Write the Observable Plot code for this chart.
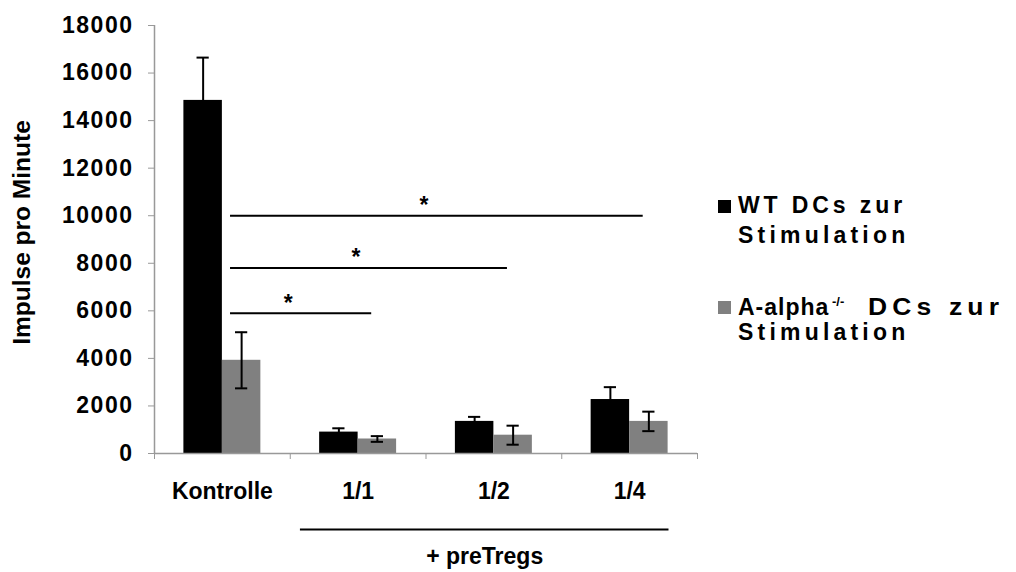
<!DOCTYPE html>
<html>
<head>
<meta charset="utf-8">
<script src="https://cdn.jsdelivr.net/npm/d3@7"></script>
<script src="https://cdn.jsdelivr.net/npm/@observablehq/plot@0.6"></script>
<style>
  body { margin: 0; background: #fff; }
  #wrap { position: relative; width: 1016px; height: 572px; font-family: "Liberation Sans", Arial, sans-serif; }
  #wrap svg text { font-weight: bold; }
  g[aria-label="y-axis tick label"] text { letter-spacing: 1.5px; }
  .lg { position: absolute; font-weight: bold; font-size: 23px; line-height: 23px; color: #000; white-space: nowrap; transform-origin: 0 0; }
  .sw { position: absolute; width: 13px; height: 13px; }
  .sup { font-size: 13px; letter-spacing: 0; }
</style>
</head>
<body>
<div id="wrap"></div>
<script>
// ---- data ----
const categories = ["Kontrolle", "1/1", "1/2", "1/4"];
const seriesNames = ["WT DCs zur Stimulation", "A-alpha-/- DCs zur Stimulation"];
const seriesColors = ["#000000", "#808080"];
const wtMeans = [14850, 900, 1350, 2270];
const wtErrors = [1800, 160, 190, 520];
const koMeans = [3920, 610, 770, 1350];
const koErrors = [1180, 120, 400, 410];
const yTicks = [0, 2000, 4000, 6000, 8000, 10000, 12000, 14000, 16000, 18000];
const sigFrom = "Kontrolle";
const sigTo = ["1/1", "1/2", "1/4"];
const sigY = [5900, 7800, 10000];
const sigLabel = "*";
const groupCats = ["1/1", "1/2", "1/4"];
const groupLabel = "+ preTregs";
const yLabel = "Impulse pro Minute";

// ---- layout helpers (scale units: one category = 1) ----
const barW = 0.2835;
const capW = 0.045;
const rows = [];
categories.forEach((c, i) => {
  const ctr = i + 0.5;
  rows.push({cat: c, s: 0, x1: ctr - barW, x2: ctr, xc: ctr - barW / 2, mean: wtMeans[i], err: wtErrors[i]});
  rows.push({cat: c, s: 1, x1: ctr, x2: ctr + barW, xc: ctr + barW / 2, mean: koMeans[i], err: koErrors[i]});
});
const sigs = sigTo.map((t, k) => {
  const a = categories.indexOf(sigFrom) + 0.56;
  const b = categories.indexOf(t) + 0.6;
  return {x1: a, x2: b, xm: (a + b) / 2, y: sigY[k]};
});
const g0 = categories.indexOf(groupCats[0]) + 0.075;
const g1 = categories.indexOf(groupCats[groupCats.length - 1]) + 1 - 0.21;

const plot = Plot.plot({
  width: 1016,
  height: 572,
  marginLeft: 154,
  marginRight: 319,
  marginTop: 25,
  marginBottom: 119,
  style: {fontFamily: "'Liberation Sans', Arial, sans-serif", fontSize: "23px", color: "#000", background: "#fff"},
  x: {domain: [0, categories.length]},
  y: {domain: [0, 18000]},
  marks: [
    Plot.rect(rows, {x1: "x1", x2: "x2", y1: 0, y2: "mean", fill: d => seriesColors[d.s]}),
    Plot.ruleX(rows, {x: "xc", y1: d => d.mean - d.err, y2: d => d.mean + d.err, stroke: "#000", strokeWidth: 2}),
    Plot.ruleY(rows, {y: d => d.mean + d.err, x1: d => d.xc - capW, x2: d => d.xc + capW, stroke: "#000", strokeWidth: 2}),
    Plot.ruleY(rows, {y: d => d.mean - d.err, x1: d => d.xc - capW, x2: d => d.xc + capW, stroke: "#000", strokeWidth: 2}),
    Plot.ruleX([0], {stroke: "#999", strokeWidth: 1.5}),
    Plot.ruleY([0], {stroke: "#999", strokeWidth: 1.5}),
    Plot.axisY({ticks: yTicks, tickFormat: d => String(d), tickSize: 6, tickPadding: 15, stroke: "#999", fontSize: 23, label: null}),
    Plot.axisX({ticks: d3.range(categories.length + 1), tickFormat: () => "", tickSize: 6, stroke: "#999", label: null}),
    Plot.axisX({ticks: categories.map((c, i) => i + 0.5), tickFormat: d => categories[Math.floor(d)], tickSize: 0, tickPadding: 29, fontSize: 23, label: null}),
    Plot.ruleY(sigs, {y: "y", x1: "x1", x2: "x2", stroke: "#000", strokeWidth: 2}),
    Plot.text(sigs, {x: d => d.xm, y: "y", text: () => sigLabel, dx: -13, dy: -10, fontSize: 23}),
    Plot.ruleY([0], {x1: g0, x2: g1, dy: 76, stroke: "#000", strokeWidth: 2}),
    Plot.text([groupLabel], {x: (g0 + g1) / 2, y: 0, text: d => d, dy: 103, fontSize: 23}),
    Plot.text([yLabel], {frameAnchor: "left", textAnchor: "middle", rotate: -90, dx: -132, dy: -7, text: d => d, fontSize: 24.5})
  ]
});

const wrap = document.getElementById("wrap");
wrap.appendChild(plot);

// legend (HTML, right of the plot)
function addDiv(cls, left, top, html, extra) {
  const d = document.createElement("div");
  d.className = cls;
  d.style.left = left + "px";
  d.style.top = top + "px";
  if (extra) Object.assign(d.style, extra);
  d.innerHTML = html;
  wrap.appendChild(d);
  return d;
}
addDiv("sw", 718, 200, "", {background: seriesColors[0]});
addDiv("lg", 738, 193.5, "WT DCs zur", {letterSpacing: "3.9px"});
addDiv("lg", 738, 223.5, "Stimulation", {letterSpacing: "4.2px"});
addDiv("sw", 718, 301, "", {background: seriesColors[1]});
addDiv("lg", 738, 295.5, "A-alpha", {letterSpacing: "1px"});
addDiv("lg", 832, 287, '<span class="sup">-/-</span>');
addDiv("lg", 868, 295.5, "DCs zur", {letterSpacing: "4.5px", transform: "scaleX(1.15)"});
addDiv("lg", 738, 320.5, "Stimulation", {letterSpacing: "4.2px"});
</script>
</body>
</html>
